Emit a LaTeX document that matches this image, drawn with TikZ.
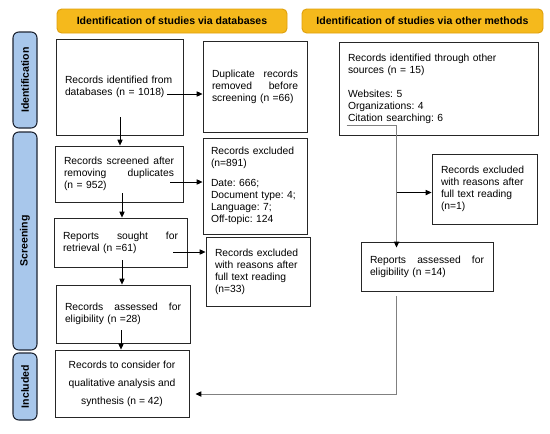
\documentclass[tikz,border=0pt]{standalone}
\usepackage{fontspec}
\setmainfont{Liberation Sans}
\usetikzlibrary{arrows.meta,calc}
\definecolor{HeadGold}{HTML}{F5B91C}
\definecolor{HeadEdge}{HTML}{DFA00C}
\definecolor{SideBlue}{HTML}{A8C7EB}
\definecolor{SideEdge}{HTML}{1E2533}
\newlength\pxu
\setlength\pxu{0.3mm}
\newcommand{\spread}[1]{{\spaceskip=0.3333em plus 1fil\makebox[\hsize][s]{#1}}}

\begin{document}
\begin{tikzpicture}[x=0.3mm, y=-0.3mm,
    head/.style={fill=HeadGold, draw=HeadEdge, line width=0.8pt, rounded corners=4pt,
                 minimum height=24\pxu, font=\fontsize{9}{11}\selectfont\bfseries},
    side/.style={fill=SideBlue, draw=SideEdge, line width=0.9pt, rounded corners=5pt,
                 rotate=90, minimum height=24\pxu, font=\fontsize{9}{11}\selectfont\bfseries},
    box/.style={draw=black!85, line width=0.8pt, inner xsep=9\pxu, align=left,
                font=\fontsize{8.8}{10.3}\selectfont\frenchspacing},
    wh/.style 2 args={minimum width=#1\pxu, minimum height=#2\pxu},
    arr/.style={-{Triangle[length=5pt,width=4.5pt]}, line width=0.6pt},
    garr/.style={-{Triangle[length=5pt,width=4.5pt,color=black]}, line width=0.7pt, draw=black!50},
  ]
    \useasboundingbox (0,0) rectangle (550,433);
    \node[head, minimum width=230\pxu] (hdb) at (172,21) {Identification of studies via databases};
    \node[head, minimum width=241\pxu] (hot) at (422.5,21) {Identification of studies via other methods};
    \node[side, minimum width=96\pxu] (sid) at (25,80) {Identification};
    \node[side, minimum width=218\pxu] (sscr) at (25,241) {Screening};
    \node[side, minimum width=67\pxu] (sinc) at (25,386.5) {Included};

    \node[box, wh={127}{96}, text width=109\pxu] (b1) at (119.5,87) {Records identified from\\databases (n = 1018)};
    \node[box, wh={104}{91}, text width=86\pxu] (dup) at (255,87) {\spread{Duplicate records}\\\spread{removed before}\\screening (n =66)};
    \node[box, wh={128}{56}, text width=110\pxu] (b2) at (119,174) {\spread{Records screened after}\\\spread{removing duplicates}\\(n = 952)};
    \node[box, wh={104}{96}, inner xsep=8\pxu, text width=88\pxu] (ex1) at (255,186) {Records excluded\\(n=891)\\[6.5pt]Date: 666;\\Document type: 4;\\Language: 7;\\Off-topic: 124};
    \node[box, wh={133}{49}, text width=115\pxu] (b3) at (120.5,242.5) {\spread{Reports sought for}\\retrieval (n =61)};
    \node[box, wh={104}{69}, text width=86\pxu] (ex2) at (258,271.5) {Records excluded\\with reasons after\\full text reading\\(n=33)};
    \node[box, wh={134}{58}, text width=116\pxu] (b4) at (123,314) {\spread{Records assessed for}\\eligibility (n =28)};
    \node[box, wh={134}{67}, align=center, font=\fontsize{8.8}{15.3}\selectfont] (b5) at (122,383.5) {Records to consider for\\qualitative analysis and\\synthesis (n = 42)};

    \node[box, wh={199}{93}, text width=181\pxu] (o1) at (438.5,88.5) {Records identified through other\\sources (n = 15)\\[10pt]Websites: 5\\Organizations: 4\\Citation searching: 6};
    \node[box, wh={105}{70}, text width=87\pxu] (o2) at (484.5,189) {Records excluded\\with reasons after\\full text reading\\(n=1)};
    \node[box, wh={132}{49}, text width=114\pxu] (o3) at (427,266.5) {\spread{Reports assessed for}\\eligibility (n =14)};

    \draw[arr] ($(b1.east)+(-16,7)$) coordinate (p1) -- (p1 -| dup.west);
    \draw[arr] ($(b1.south)+(0.5,-18)$) coordinate (p2) -- (p2 |- b2.north);
    \draw[arr] ($(b2.east)+(-13,8)$) coordinate (p3) -- (p3 -| ex1.west);
    \draw[arr] ($(b2.south)+(3,-9)$) coordinate (p4) -- (p4 |- b3.north);
    \draw[arr] ($(b3.east)+(-14,9.5)$) coordinate (p5) -- (p5 -| ex2.west);
    \draw[arr] ($(b3.south)+(1.5,-7)$) coordinate (p6) -- (p6 |- b4.north);
    \draw[arr] ($(b4.south)+(-2,-13)$) coordinate (p7) -- (p7 |- b5.north);

    \coordinate (jn) at ($(o3.north west)+(36,-49)$);
    \draw[garr] ($(o1.south west)+(8,-10)$) -| ($(o3.north west)+(36,6)$);
    \draw[arr] (jn) -- (jn -| o2.west);
    \draw[garr] ($(o3.south west)+(36,5)$) |- ($(b5.east)+(6,10.5)$);
  \end{tikzpicture}
\end{document}
